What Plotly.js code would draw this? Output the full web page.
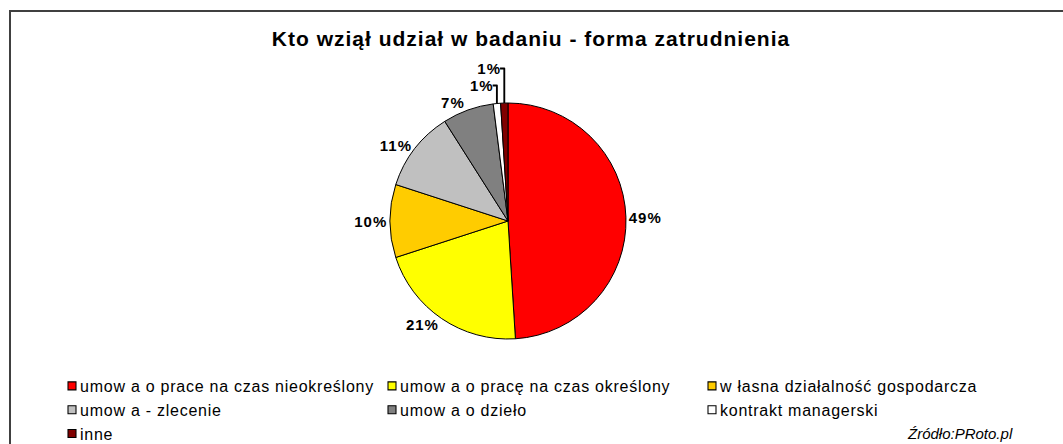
<!DOCTYPE html>
<html>
<head>
<meta charset="utf-8">
<script src="https://cdn.plot.ly/plotly-3.0.1.min.js"></script>
<style>
  html, body { margin: 0; padding: 0; background: #fff; }
  #chart { width: 1063px; height: 444px; }
  .legend .legendtext { letter-spacing: 0.75px; }
  .legend path.legendpie { transform: translate(32px, 0px) scale(0.667); stroke: #000 !important; stroke-width: 1.6px !important; }
  .pielayer .slicetext { letter-spacing: 1px; }
  .gtitle { letter-spacing: 1px; }
</style>
</head>
<body>
<div id="chart"></div>
<script>
const categories = [
  'umow a o prace na czas nieokreślony',
  'umow a o pracę na czas określony',
  'w łasna działalność gospodarcza',
  'umow a - zlecenie',
  'umow a o dzieło',
  'kontrakt managerski',
  'inne'
];
const values = [49, 21, 10, 11, 7, 1, 1];
const colors = ['#FF0000', '#FFFF00', '#FFCC00', '#C0C0C0', '#808080', '#FFFFFF', '#800000'];
const chartTitle = 'Kto wziął udział w badaniu - forma zatrudnienia';
const sourceText = 'Źródło:PRoto.pl';

const W = 1063, H = 444;
const cx = 508, cy = 221, r = 118;

const trace = {
  type: 'pie',
  labels: categories,
  values: values,
  sort: false,
  direction: 'clockwise',
  rotation: 0,
  marker: { colors: colors, line: { color: '#000000', width: 1 } },
  textinfo: 'percent',
  texttemplate: '%{percent:.0%}',
  textposition: 'outside',
  outsidetextfont: { family: 'Liberation Sans, Arial, sans-serif', size: 15, color: '#000', weight: 'bold' },
  domain: { x: [(cx - r) / W, (cx + r) / W], y: [1 - (cy + r) / H, 1 - (cy - r) / H] },
  hoverinfo: 'label+percent',
  automargin: false
};

const layout = {
  width: W, height: H,
  margin: { l: 0, r: 0, t: 0, b: 0, autoexpand: false },
  paper_bgcolor: '#FFFFFF',
  plot_bgcolor: '#FFFFFF',
  font: { family: 'Liberation Sans, Arial, sans-serif', color: '#000' },
  title: {
    text: chartTitle,
    font: { family: 'Liberation Sans, Arial, sans-serif', size: 21, color: '#000', weight: 'bold' },
    x: 531 / W, xanchor: 'center', xref: 'paper',
    y: 1 - 39 / H, yanchor: 'middle', yref: 'container'
  },
  showlegend: true,
  legend: {
    orientation: 'h',
    x: 40 / W, xanchor: 'left',
    y: 1 - 369 / H, yanchor: 'top',
    entrywidth: 275, entrywidthmode: 'pixels',
    font: { family: 'Liberation Sans, Arial, sans-serif', size: 16, color: '#000' },
    bgcolor: 'rgba(0,0,0,0)', borderwidth: 0,
    traceorder: 'normal'
  },
  shapes: [
    { type: 'line', xref: 'paper', yref: 'paper', x0: 9 / W, x1: 1, y0: 1 - 11 / H, y1: 1 - 11 / H, line: { color: '#404040', width: 2 } },
    { type: 'line', xref: 'paper', yref: 'paper', x0: 10 / W, x1: 10 / W, y0: 0, y1: 1 - 10 / H, line: { color: '#404040', width: 2 } }
  ],
  annotations: [
    { text: sourceText, xref: 'paper', yref: 'paper', x: 1015 / W, y: 1 - 433 / H, xanchor: 'right', yanchor: 'middle', showarrow: false,
      font: { family: 'Liberation Sans, Arial, sans-serif', size: 15, color: '#000', style: 'italic' } }
  ]
};

Plotly.newPlot('chart', [trace], layout, { staticPlot: true, displayModeBar: false });
</script>
</body>
</html>
